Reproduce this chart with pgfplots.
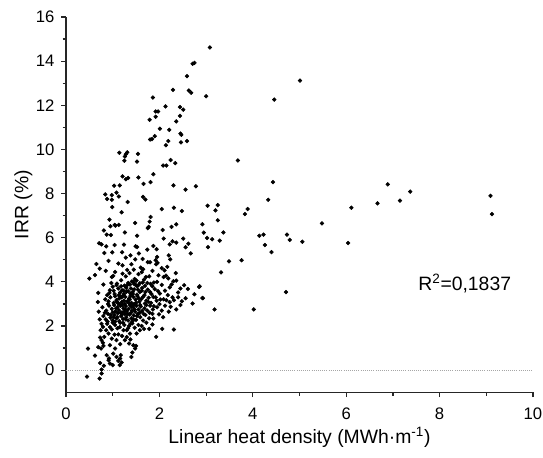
\documentclass[border=0pt]{standalone}
\usepackage{fontspec}
\setmainfont{Liberation Sans}
\usepackage{pgfplots}
\pgfplotsset{compat=1.18}

\begin{document}
\begin{tikzpicture}
\begin{axis}[
  width=350pt, height=281.25pt, scale only axis,
  xmin=0, xmax=10, ymin=-1, ymax=16,
  axis x line*=bottom, axis y line*=left,
  axis line style={black!85, line width=0.9pt},
  xtick={0,2,...,10}, ytick={0,2,...,16},
  minor x tick num=1, minor y tick num=1,
  tick align=outside,
  major tick length=3.75pt, minor tick length=2.5pt,
  tick style={black!85, line width=0.9pt},
  tick label style={font=\fontsize{12.5}{14}\selectfont},
  xticklabel style={yshift=-4.5pt},
  yticklabel style={xshift=-1.5pt},
  /pgf/number format/assume math mode=true,
  xlabel={Linear heat density (MWh·m\textsuperscript{-1})},
  ylabel={IRR (\%)},
  label style={font=\fontsize{14.5}{16}\selectfont},
  xlabel style={at={([yshift=-38.25pt]axis description cs:0.5,0)}, anchor=base},
  ylabel style={at={([xshift=-32pt]axis description cs:0,0.5)}, anchor=center},
  clip=false,
]
\addplot[gray!70, densely dotted, line width=0.6pt, forget plot] coordinates {(0,0) (10,0)};

\addplot[only marks, mark=*, mark size=1.4pt, black] coordinates {
% upper part
(3.08,14.62) (2.75,13.92) (2.71,13.88) (2.59,13.32) (2.63,12.67) (2.68,12.57) (3.00,12.41) (2.29,12.70)
(1.86,12.35) (2.13,11.95) (1.92,11.72) (1.97,11.72) (1.92,11.48) (1.79,11.34) (2.44,11.92) (2.51,11.80)
(2.44,11.52) (2.36,11.27) (2.01,10.94) (2.21,10.89) (2.45,10.72) (2.47,10.66) (1.90,10.60) (1.80,10.45)
(1.84,10.47) (2.19,10.38) (2.46,10.32) (2.59,10.38) (2.14,10.19) (1.14,9.85) (1.28,9.78) (1.31,9.87)
(1.26,9.68) (1.54,9.80) (1.25,9.49) (1.52,9.45) (2.24,9.52) (2.34,9.38) (2.08,9.27) (2.15,9.27)
(3.68,9.50) (1.87,8.88) (1.21,8.78) (1.28,8.65) (1.33,8.71) (1.55,8.73) (1.66,8.44) (1.81,8.52)
(1.03,8.36) (1.15,8.37) (2.30,8.37) (2.56,8.18) (2.78,8.33) (0.84,7.96) (0.88,7.76) (0.98,7.93)
(0.98,7.72) (1.13,7.87) (1.08,8.04) (1.65,7.85) (1.70,7.73) (1.32,7.62)
% right side
(5.01,13.12) (4.46,12.26) (4.43,8.52) (4.33,7.72) (3.03,7.45) (3.25,7.48) (3.20,7.24) (3.89,7.30)
(3.83,7.07) (3.25,6.79) (2.92,6.61) (2.95,6.23) (3.37,6.24) (3.02,5.99) (3.13,5.93) (3.29,5.87)
(3.04,5.57) (4.14,6.09) (4.23,6.14) (4.26,5.67) (4.40,5.35) (4.73,6.14) (4.79,5.90) (5.06,5.82)
(5.48,6.65) (6.04,5.76) (6.11,7.36) (6.67,7.56) (6.89,8.42) (7.15,7.68) (7.37,8.09) (9.09,7.90)
(9.12,7.07) (3.49,4.93) (3.76,4.98) (3.32,4.43) (4.71,3.54) (2.86,3.80) (2.92,3.27) (3.18,2.75)
(4.02,2.75)
% middle band
(0.99,7.39) (2.05,7.30) (2.31,7.36) (2.48,7.21) (1.19,7.15) (1.81,6.94) (0.93,6.82) (1.04,6.58)
(1.06,6.55) (0.95,6.52) (1.13,6.58) (1.48,6.67) (1.79,6.73) (1.77,6.49) (1.75,6.44) (2.07,6.35)
(2.26,6.49) (2.36,6.61) (0.81,6.33) (0.87,6.14) (0.96,6.12) (1.26,6.24) (1.52,6.09)
(0.71,5.75) (0.76,5.70) (0.86,5.61) (1.04,5.67) (1.24,5.69) (1.49,5.61) (1.52,5.58) (1.74,5.46)
(2.09,5.96) (1.87,5.63) (1.94,5.48) (2.22,5.70) (2.28,5.84) (2.36,5.78) (2.51,5.96) (2.56,5.57)
(2.62,5.73) (2.67,5.29) (0.82,5.31) (0.99,5.34) (1.20,5.34) (1.28,5.10) (1.38,5.20) (1.56,5.29)
(1.64,5.04) (1.75,4.89) (1.80,4.89) (1.95,5.13) (1.92,4.98) (1.96,4.86) (1.93,4.80) (2.20,5.20)
(2.23,5.02) (2.17,4.68) (0.65,4.81) (0.72,4.60) (0.91,4.95) (1.12,4.83) (1.40,4.80) (1.31,4.54)
(1.48,5.02) (1.65,4.57) (1.21,4.75) (1.05,4.45) (1.45,4.55) (1.85,4.50) (1.60,4.65) (0.85,4.50)
(2.35,4.40) (2.05,4.62)
% dense cluster
(0.98,4.22) (1.01,4.27) (1.21,4.37) (1.28,4.25) (1.47,4.13) (1.71,4.22) (1.78,4.25) (1.98,4.30)
(2.09,4.22) (2.11,4.52) (2.14,4.28) (2.19,4.16) (1.36,4.40) (1.55,4.35) (1.62,4.44) (0.62,4.31)
(0.50,4.15)
(0.80,3.88) (1.18,4.07) (1.44,3.99) (1.51,4.06) (1.48,3.89) (1.55,3.85) (1.37,3.88) (1.64,3.97)
(1.74,3.95) (1.81,3.91) (1.88,3.97) (1.95,4.00) (2.30,4.03) (2.36,4.06) (2.26,3.88) (2.53,3.85)
(1.41,4.02) (1.58,3.94) (1.52,3.80) (1.33,3.95) (1.09,3.92) (1.25,3.83) (2.05,3.86) (1.69,3.82)
(2.61,3.68) (2.85,3.77) (2.75,3.44) (0.69,3.50) (0.94,3.62) (1.04,3.45) (1.20,3.62) (1.38,3.47)
(1.58,3.54) (1.70,3.54) (1.80,3.54) (2.01,3.47) (1.12,3.70) (1.29,3.73) (1.46,3.66) (1.63,3.72)
(1.90,3.67) (2.12,3.60) (2.22,3.75) (1.00,3.78) (0.88,3.40) (1.16,3.52) (1.33,3.58) (1.52,3.42)
(1.75,3.65) (1.97,3.58) (2.40,3.52) (2.45,3.70) (1.24,3.45) (1.43,3.55)
(2.93,3.26) (2.56,3.26) (2.71,3.02) (0.68,3.09) (0.84,3.21) (1.08,3.17) (1.27,3.32) (1.44,3.32)
(1.65,3.32) (1.87,3.32) (2.09,3.21) (2.15,3.17) (2.22,3.08) (2.31,3.17) (1.94,3.14) (2.00,2.99)
(0.95,3.30) (1.02,3.05) (1.14,3.25) (1.19,3.08) (1.22,3.38) (1.31,3.12) (1.35,3.25) (1.40,3.05)
(1.49,3.20) (1.53,3.35) (1.57,3.10) (1.61,3.22) (1.72,3.15) (1.77,3.28) (1.82,3.05) (1.12,3.02)
(1.26,3.00) (0.91,3.12) (1.46,3.00) (1.69,3.02) (2.40,3.30) (2.48,3.12) (1.38,3.36) (1.05,3.35)
(2.36,2.75) (2.24,2.87) (0.78,2.85) (0.86,2.70) (0.92,2.92) (0.98,2.78) (1.03,2.95) (1.06,2.66)
(1.10,2.85) (1.13,2.72) (1.17,2.92) (1.20,2.62) (1.23,2.80) (1.28,2.90) (1.30,2.68) (1.34,2.78)
(1.37,2.95) (1.41,2.70) (1.44,2.85) (1.48,2.65) (1.51,2.92) (1.55,2.75) (1.60,2.88) (1.63,2.68)
(1.68,2.80) (1.74,2.70) (1.80,2.92) (1.86,2.75) (1.95,2.85) (2.05,2.70) (2.12,2.92) (1.15,2.98)
(1.25,2.66) (1.40,2.88) (1.00,2.62) (1.58,2.60) (2.20,2.65) (2.45,2.95)
(0.80,2.45) (0.85,2.30) (0.90,2.55) (0.95,2.38) (1.00,2.25) (1.04,2.50) (1.08,2.35) (1.11,2.58)
(1.14,2.22) (1.18,2.45) (1.22,2.32) (1.26,2.55) (1.29,2.40) (1.33,2.25) (1.36,2.52) (1.40,2.35)
(1.45,2.48) (1.50,2.28) (1.54,2.55) (1.59,2.40) (1.65,2.25) (1.70,2.50) (1.78,2.35) (1.85,2.55)
(1.99,2.53) (1.87,2.34) (2.08,2.40) (1.02,2.40) (1.20,2.52) (1.42,2.22) (0.72,2.30)
(0.74,1.81) (0.79,1.96) (0.86,1.81) (0.88,2.10) (0.94,1.95) (1.05,2.05) (1.10,1.90) (1.16,2.15)
(1.23,1.81) (1.30,1.81) (1.35,2.00) (1.42,2.12) (1.47,1.92) (1.58,1.81) (1.67,1.87) (1.78,1.87)
(1.85,2.07) (2.06,1.87) (2.31,1.84) (1.00,2.15) (1.25,2.05) (1.55,2.05) (1.72,2.15) (0.98,1.85)
(0.90,3.00) (0.96,2.50) (1.07,2.80) (1.09,3.10) (1.13,3.40) (1.17,2.60) (1.19,3.30) (1.21,2.95)
(1.24,3.15) (1.27,2.75) (1.29,3.55) (1.32,2.55) (1.34,3.05) (1.36,3.20) (1.39,2.60) (1.42,2.95)
(1.43,3.45) (1.47,2.75) (1.50,3.05) (1.52,2.45) (1.56,3.25) (1.59,2.95) (1.62,3.60) (1.66,2.55)
(1.68,3.40) (1.72,2.95) (1.76,3.10) (1.79,2.60) (1.83,3.45) (1.88,2.90) (1.92,3.30) (2.02,3.20)
(2.18,3.40) (2.28,3.30) (1.05,2.20) (1.10,2.40) (1.15,1.95) (1.22,2.15) (1.28,2.30) (1.33,1.90)
(1.38,2.10) (1.45,2.30) (1.62,2.00) (1.02,3.60) (1.08,3.85) (1.15,3.35) (1.18,3.80) (1.23,3.60)
(1.31,3.85) (1.39,3.70) (1.46,3.90) (1.54,3.65) (1.67,4.10) (1.85,3.80) (0.93,3.50) (0.97,3.95)
(0.89,2.20) (0.83,2.60) (0.76,2.10) (0.70,2.65)
% lower tail
(0.91,1.66) (1.04,1.61) (1.37,1.66) (1.51,1.66) (1.93,1.51) (0.73,1.48) (0.76,1.36) (0.79,1.24)
(0.82,1.51) (0.98,1.43) (1.08,1.36) (1.26,1.36) (1.35,1.21) (1.38,1.39) (1.44,1.13) (1.48,0.98)
(1.50,1.10) (1.16,1.18) (0.94,1.13) (0.69,1.04) (0.75,0.98) (0.80,1.10) (1.05,0.98) (0.47,0.98)
(0.62,0.66) (0.87,0.68) (0.91,0.45) (0.94,0.30) (1.00,0.23) (0.92,0.53) (1.01,0.75) (1.08,0.60)
(1.12,0.42) (1.16,0.53) (1.17,0.68) (1.15,0.23) (1.19,0.35) (1.40,0.60) (1.42,0.80) (0.73,0.32)
(0.81,0.20) (0.76,-0.15) (0.76,0.03) (0.45,-0.29) (0.72,-0.38) (1.20,1.55) (1.12,1.62) (1.30,1.50)
};

\node[anchor=base west, font=\fontsize{14.5}{16}\selectfont, inner sep=0pt] at (axis cs:7.54,3.63) {R\textsuperscript{2}=0,1837};
\end{axis}
\pgfresetboundingbox
\path ([xshift=-49.5pt,yshift=-48.75pt]current axis.south west) rectangle ([xshift=7.5pt,yshift=12.75pt]current axis.north east);
\end{tikzpicture}
\end{document}
